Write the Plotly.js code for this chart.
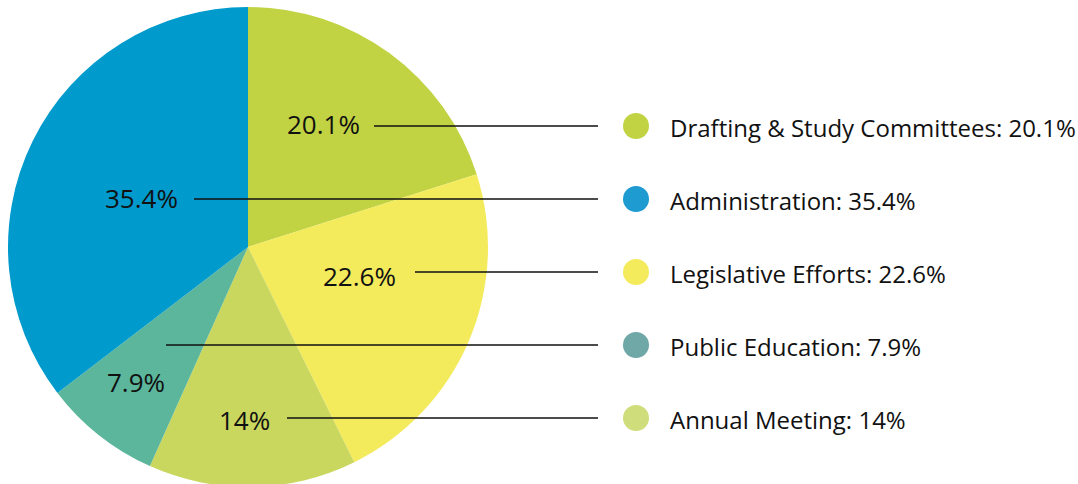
<!DOCTYPE html>
<html>
<head>
<meta charset="utf-8">
<script src="https://cdn.plot.ly/plotly-3.0.1.min.js"></script>
<style>
html,body{margin:0;padding:0;overflow:hidden;background:#fff;}
#chart{width:1078px;height:494px;}
</style>
</head>
<body>
<div id="chart"></div>
<script>
// ---- data (pie order, clockwise from 12 o'clock) ----
var categories = ["Drafting & Study Committees", "Legislative Efforts", "Annual Meeting", "Public Education", "Administration"];
var values = [20.1, 22.6, 14, 7.9, 35.4];
var sliceLabels = ["20.1%", "22.6%", "14%", "7.9%", "35.4%"];
var sliceColors = ["#c1d343", "#f3ea5c", "#c9d75f", "#5bb69b", "#009acc"];

// ---- legend (order as shown on the right) ----
var legendNames = ["Drafting & Study Committees", "Administration", "Legislative Efforts", "Public Education", "Annual Meeting"];
var legendValues = ["20.1%", "35.4%", "22.6%", "7.9%", "14%"];
var legendColors = ["#c1d343", "#1e9bd0", "#f3ea5c", "#6fa8a7", "#cfdd7a"];

// ---- layout helpers (positions, not data) ----
var W = 1078, H = 494;
var legendRowY0 = 126, legendRowGap = 73;
var markerX = 636, textX = 668, lineEndX = 598;
// label anchor (center x, center y) and line start x for each pie slice, keyed by category
var labelLayout = {
  "Drafting & Study Committees": {x: 323, y: 124, lineStart: 374},
  "Administration": {x: 141, y: 198, lineStart: 194},
  "Legislative Efforts": {x: 359, y: 276, lineStart: 415},
  "Public Education": {x: 136, y: 382, lineStart: 166},
  "Annual Meeting": {x: 244, y: 420, lineStart: 287}
};

var FONT = "Open Sans, sans-serif";
var FS = 24, LFS = 26;

var traces = [];
traces.push({
  type: "pie",
  labels: categories,
  values: values,
  sort: false,
  direction: "clockwise",
  rotation: 0,
  marker: {colors: sliceColors, line: {width: 0}},
  textinfo: "none",
  hoverinfo: "label+percent",
  showlegend: false,
  domain: {x: [8 / W, 488 / W], y: [0, 1]}
});

var legendY = legendNames.map(function (n, i) { return legendRowY0 + i * legendRowGap; });

// leader lines
var shapes = [];
legendNames.forEach(function (n, i) {
  var L = labelLayout[n];
  shapes.push({type: "line", xref: "x", yref: "y", x0: L.lineStart, x1: lineEndX,
    y0: legendY[i], y1: legendY[i], line: {color: "#111", width: 1.4}});
});

// legend markers
traces.push({
  type: "scatter", mode: "markers",
  x: legendNames.map(function () { return markerX; }),
  y: legendY,
  marker: {size: 26, color: legendColors, line: {width: 0}},
  hoverinfo: "skip", showlegend: false, xaxis: "x", yaxis: "y"
});

// annotations
var annotations = [];
legendNames.forEach(function (n, i) {
  annotations.push({xref: "x", yref: "y", x: textX, y: legendY[i] + 1, xanchor: "left", yanchor: "middle",
    text: n + ": " + legendValues[i], showarrow: false, font: {family: FONT, size: FS, color: "#111"}});
});
categories.forEach(function (c, i) {
  var L = labelLayout[c];
  annotations.push({xref: "x", yref: "y", x: L.x, y: L.y, xanchor: "center", yanchor: "middle",
    text: sliceLabels[i], showarrow: false, font: {family: FONT, size: LFS, color: "#111"}});
});

var layout = {
  width: W, height: H,
  margin: {l: 0, r: 0, t: 0, b: 0},
  paper_bgcolor: "#fff", plot_bgcolor: "rgba(0,0,0,0)",
  xaxis: {range: [0, W], visible: false, fixedrange: true},
  yaxis: {range: [H, 0], visible: false, fixedrange: true},
  shapes: shapes,
  annotations: annotations,
  showlegend: false
};

Plotly.newPlot("chart", traces, layout, {displayModeBar: false, staticPlot: true});
</script>
</body>
</html>
